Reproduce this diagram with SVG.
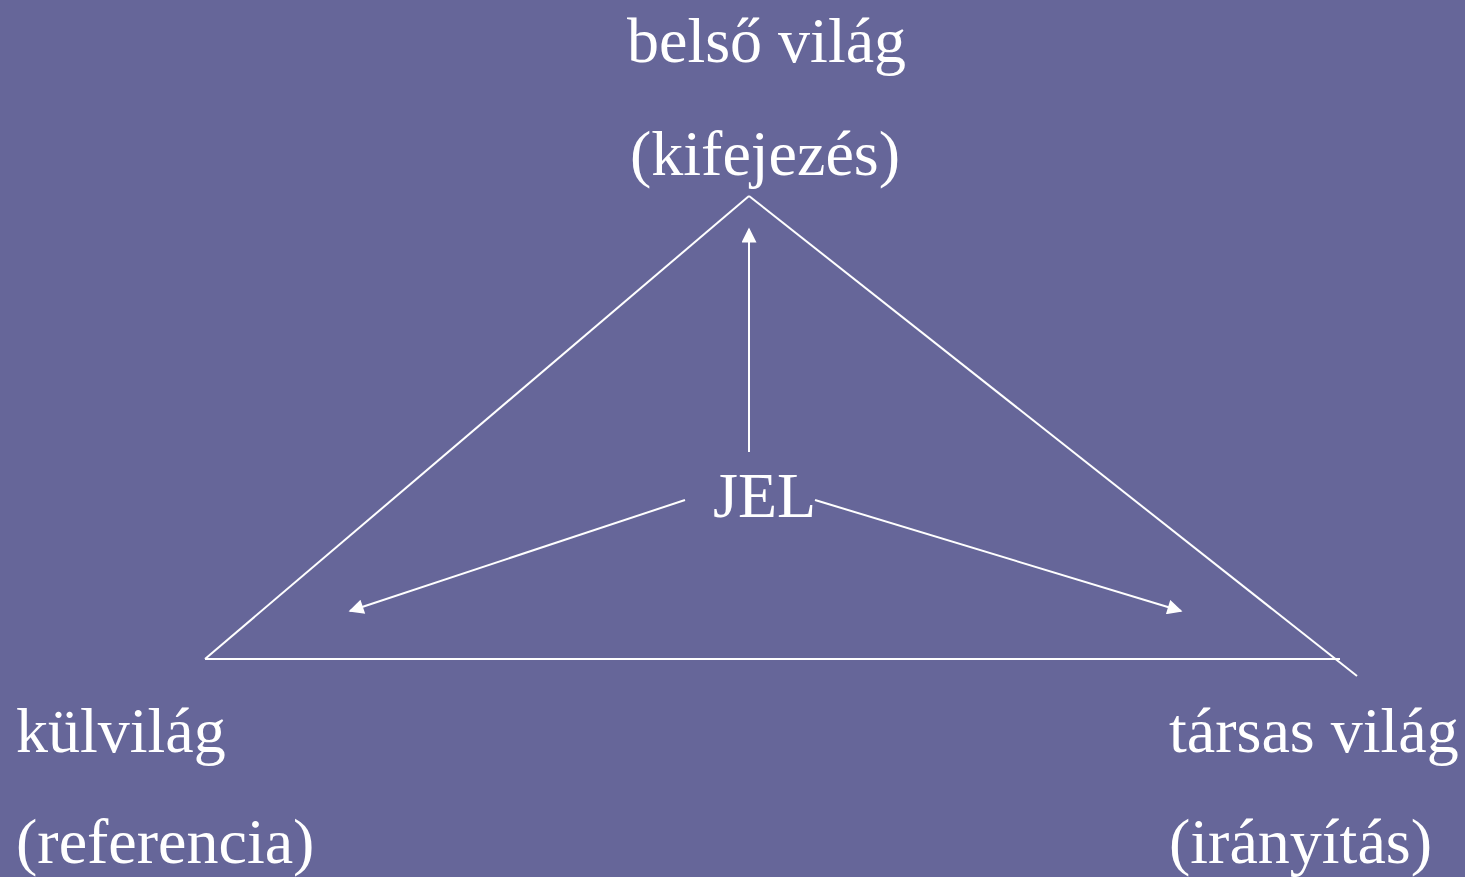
<svg xmlns="http://www.w3.org/2000/svg" width="1465" height="877" viewBox="0 0 1465 877">
<style>
text{font-family:"Liberation Serif","Times New Roman",serif;font-size:64px;fill:#ffffff}
.ln{stroke:#ffffff;stroke-width:2;fill:none}
</style>
<defs>
<marker id="ahs" viewBox="0 0 10 10" refX="9" refY="5" markerWidth="18" markerHeight="15" markerUnits="userSpaceOnUse" orient="auto"><path d="M0,0 L10,5 L0,10 Z" fill="#ffffff"/></marker>
</defs>
<rect width="1465" height="877" fill="#666699"/>
<g id="connectors">
<line class="ln" x1="749" y1="196" x2="205" y2="659"/>
<line class="ln" x1="749" y1="196" x2="1357" y2="676"/>
<line class="ln" x1="205" y1="659" x2="1340" y2="659"/>
<line class="ln" x1="749" y1="452" x2="749" y2="229" marker-end="url(#ahs)"/>
<line class="ln" x1="685" y1="500" x2="350" y2="611" marker-end="url(#ahs)"/>
<line class="ln" x1="815" y1="500" x2="1181" y2="611" marker-end="url(#ahs)"/>
</g>
<g id="node-belso"><text x="627" y="62">belső világ</text><text x="630" y="175">(kifejezés)</text></g>
<g id="node-jel"><text x="713" y="517">JEL</text></g>
<g id="node-kulvilag"><text x="16" y="752">külvilág</text><text x="16" y="863">(referencia)</text></g>
<g id="node-tarsas"><text x="1169" y="752">társas világ</text><text x="1169" y="863">(irányítás)</text></g>
</svg>
